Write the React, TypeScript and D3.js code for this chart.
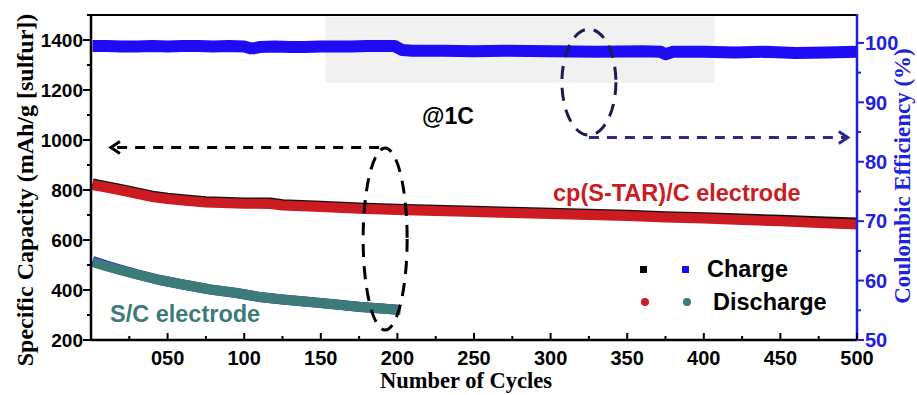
import React from "react";
import * as d3 from "d3";

// cp(S-TAR)/C electrode
const cpCycles = [1, 10, 20, 30, 40, 50, 60, 75, 100, 117, 125, 150, 175, 200, 225, 250, 275, 300, 325, 350, 375, 400, 425, 450, 475, 500];
const cpDischarge = [820, 810, 798, 785, 772, 764, 758, 750, 745, 744, 738, 732, 725, 720, 716, 712, 708, 704, 700, 696, 690, 686, 680, 675, 668, 662];
const cpCharge = [826, 815, 803, 790, 777, 769, 763, 755, 750, 750, 743, 737, 730, 725, 721, 717, 713, 709, 705, 701, 695, 691, 686, 681, 675, 670];

// S/C electrode
const scCycles = [1, 10, 20, 30, 45, 60, 78, 95, 110, 125, 143, 160, 176, 190, 202];
const scDischarge = [512, 495, 478, 462, 440, 422, 402, 388, 372, 362, 352, 342, 332, 326, 320];
const scCharge = [516, 498, 480, 463, 440, 422, 402, 388, 372, 362, 352, 342, 332, 326, 320];

// coulombic efficiency (%)
const ceCycles = [1, 10, 20, 30, 40, 50, 60, 70, 80, 90, 100, 104, 106, 110, 120, 130, 140, 150, 160, 170, 180, 190, 198, 203, 210, 230, 250, 270, 300, 330, 360, 372, 375, 380, 400, 420, 440, 460, 480, 500];
const ceValues = [99.5, 99.5, 99.4, 99.4, 99.5, 99.4, 99.5, 99.5, 99.4, 99.5, 99.4, 99.1, 99.1, 99.3, 99.4, 99.3, 99.3, 99.4, 99.4, 99.4, 99.5, 99.5, 99.5, 98.8, 98.7, 98.7, 98.6, 98.7, 98.6, 98.5, 98.6, 98.5, 98.1, 98.5, 98.5, 98.4, 98.5, 98.3, 98.4, 98.5];

// axes
const xTicks = [50, 100, 150, 200, 250, 300, 350, 400, 450, 500];
const xTickLabels = ["050", "100", "150", "200", "250", "300", "350", "400", "450", "500"];
const xMinor = [25, 75, 125, 175, 225, 275, 325, 375, 425, 475];
const yLeftTicks = [200, 400, 600, 800, 1000, 1200, 1400];
const yLeftMinor = [300, 500, 700, 900, 1100, 1300, 1500];
const yRightTicks = [50, 60, 70, 80, 90, 100];
const yRightMinor = [55, 65, 75, 85, 95];

const SANS = "'Liberation Sans', Arial, sans-serif";
const SERIF = "'Liberation Serif', 'Times New Roman', serif";
const BLUE = "#1f0cf5";
const AXIS_BLUE = "#2020e0";
const RED = "#cc1b22";
const TEAL = "#3c7b78";
const NAVY = "#1b1b55";

const x = d3.scaleLinear().domain([0, 500]).range([91, 857]);
const yL = d3.scaleLinear().domain([200, 1500]).range([340, 15]);
const yR = d3.scaleLinear().domain([50, 104.7]).range([340, 15]);

function band(xs: number[], ys: number[], y: d3.ScaleLinear<number, number>) {
  const pts: [number, number][] = xs.map((c, i) => [x(c), y(ys[i])]);
  return d3.line()(pts) || "";
}

export default function App() {
  const left = x(0);
  const right = x(500);
  const top = yL(1500);
  const bottom = yL(200);

  // annotations
  const lEll = { cx: x(192), cy: yL(604), rx: 22, ry: 91 };
  const lArrowY = yL(970);
  const rEll = { cx: x(325), cy: yR(93.4), rx: 27, ry: 53 };
  const rArrowY = yR(84.1);

  return (
    <svg width={917} height={395} style={{ position: "absolute", left: 0, top: 0, background: "#fff" }}>
      {/* shaded region */}
      <rect x={x(153)} y={yR(104.4)} width={x(407) - x(153)} height={yR(93.3) - yR(104.4)} fill="#f1f1f1" />

      {/* CE */}
      <path d={band(ceCycles, ceValues, yR)} fill="none" stroke={BLUE} strokeWidth={12} strokeLinejoin="round" />

      {/* S/C */}
      <path d={band(scCycles, scCharge, yL)} fill="none" stroke={BLUE} strokeWidth={10} />
      <path d={band(scCycles, scDischarge, yL)} fill="none" stroke={TEAL} strokeWidth={10} />

      {/* cp(S-TAR)/C */}
      <path d={band(cpCycles, cpCharge, yL)} fill="none" stroke="#111" strokeWidth={10} />
      <path d={band(cpCycles, cpDischarge, yL)} fill="none" stroke={RED} strokeWidth={10} />

      {/* frame */}
      <line x1={left} x2={right} y1={top} y2={top} stroke="#000" strokeWidth={2} />
      <line x1={left} x2={left} y1={top} y2={bottom} stroke="#000" strokeWidth={2.5} />
      <line x1={left} x2={right} y1={bottom} y2={bottom} stroke="#000" strokeWidth={2.5} />
      <line x1={right} x2={right} y1={top - 1} y2={bottom + 1} stroke={AXIS_BLUE} strokeWidth={2.5} />

      {/* x axis */}
      {xTicks.map((t, i) => (
        <g key={"xt" + t}>
          <line x1={x(t)} x2={x(t)} y1={bottom} y2={bottom - 7} stroke="#000" strokeWidth={2} />
          <text x={x(t)} y={365} textAnchor="middle" fontFamily={SANS} fontWeight="bold" fontSize={20}>
            {xTickLabels[i]}
          </text>
        </g>
      ))}
      {xMinor.map((t) => (
        <line key={"xm" + t} x1={x(t)} x2={x(t)} y1={bottom} y2={bottom - 4} stroke="#000" strokeWidth={2} />
      ))}

      {/* left axis */}
      {yLeftTicks.map((t) => (
        <g key={"yl" + t}>
          <line x1={left} x2={left - 8} y1={yL(t)} y2={yL(t)} stroke="#000" strokeWidth={2} />
          <text x={83} y={yL(t)} dy="0.36em" textAnchor="end" fontFamily={SANS} fontWeight="bold" fontSize={19}>
            {t}
          </text>
        </g>
      ))}
      {yLeftMinor.map((t) => (
        <line key={"ylm" + t} x1={left} x2={left - 4} y1={yL(t)} y2={yL(t)} stroke="#000" strokeWidth={2} />
      ))}

      {/* right axis */}
      {yRightTicks.map((t) => (
        <g key={"yr" + t}>
          <line x1={right} x2={right + 7} y1={yR(t)} y2={yR(t)} stroke={AXIS_BLUE} strokeWidth={2} />
          <text x={865} y={yR(t)} dy="0.36em" fontFamily={SANS} fontWeight="bold" fontSize={20} fill={AXIS_BLUE}>
            {t}
          </text>
        </g>
      ))}
      {yRightMinor.map((t) => (
        <line key={"yrm" + t} x1={right} x2={right + 4} y1={yR(t)} y2={yR(t)} stroke={AXIS_BLUE} strokeWidth={2} />
      ))}

      {/* axis titles */}
      <text
        transform={`translate(33,190) rotate(-90)`}
        textAnchor="middle"
        fontFamily={SERIF}
        fontWeight="bold"
        fontSize={24}
      >
        Specific Capacity (mAh/g [sulfur])
      </text>
      <text
        transform={`translate(910,176) rotate(-90)`}
        textAnchor="middle"
        fontFamily={SERIF}
        fontWeight="bold"
        fontSize={23}
        fill={AXIS_BLUE}
      >
        Coulombic Efficiency (%)
      </text>
      <text x={466} y={388} textAnchor="middle" fontFamily={SERIF} fontWeight="bold" fontSize={22.5}>
        Number of Cycles
      </text>

      {/* annotations */}
      <ellipse cx={lEll.cx} cy={lEll.cy} rx={lEll.rx} ry={lEll.ry} fill="none" stroke="#000" strokeWidth={3} strokeDasharray="13 9" />
      <line x1={lEll.cx - 6} x2={x(13)} y1={lArrowY} y2={lArrowY} stroke="#000" strokeWidth={3} strokeDasharray="10 8" />
      <polyline
        points={`${x(13) + 9},${lArrowY - 6} ${x(13)},${lArrowY} ${x(13) + 9},${lArrowY + 6}`}
        fill="none"
        stroke="#000"
        strokeWidth={3}
      />
      <ellipse cx={rEll.cx} cy={rEll.cy} rx={rEll.rx} ry={rEll.ry} fill="none" stroke={NAVY} strokeWidth={3} strokeDasharray="13 9" />
      <line x1={rEll.cx} x2={x(494)} y1={rArrowY} y2={rArrowY} stroke="#2b2b86" strokeWidth={3} strokeDasharray="10 8" />
      <polyline
        points={`${x(494) - 9},${rArrowY - 6} ${x(494)},${rArrowY} ${x(494) - 9},${rArrowY + 6}`}
        fill="none"
        stroke="#2b2b86"
        strokeWidth={3}
      />

      <text x={422} y={124} fontFamily={SANS} fontWeight="bold" fontSize={23}>
        @1C
      </text>
      <text x={553} y={201} fontFamily={SANS} fontWeight="bold" fontSize={23.5} fill={RED}>
        cp(S-TAR)/C electrode
      </text>
      <text x={110} y={322} fontFamily={SANS} fontWeight="bold" fontSize={23.5} fill={TEAL}>
        S/C electrode
      </text>

      {/* legend */}
      <rect x={640} y={266} width={7} height={7} fill="#000" />
      <rect x={682} y={266} width={7} height={7} fill={BLUE} />
      <text x={707} y={277} fontFamily={SANS} fontWeight="bold" fontSize={23.5}>
        Charge
      </text>
      <circle cx={645} cy={302} r={4} fill={RED} />
      <circle cx={687} cy={302} r={4} fill={TEAL} />
      <text x={713} y={310} fontFamily={SANS} fontWeight="bold" fontSize={23.5}>
        Discharge
      </text>
    </svg>
  );
}
